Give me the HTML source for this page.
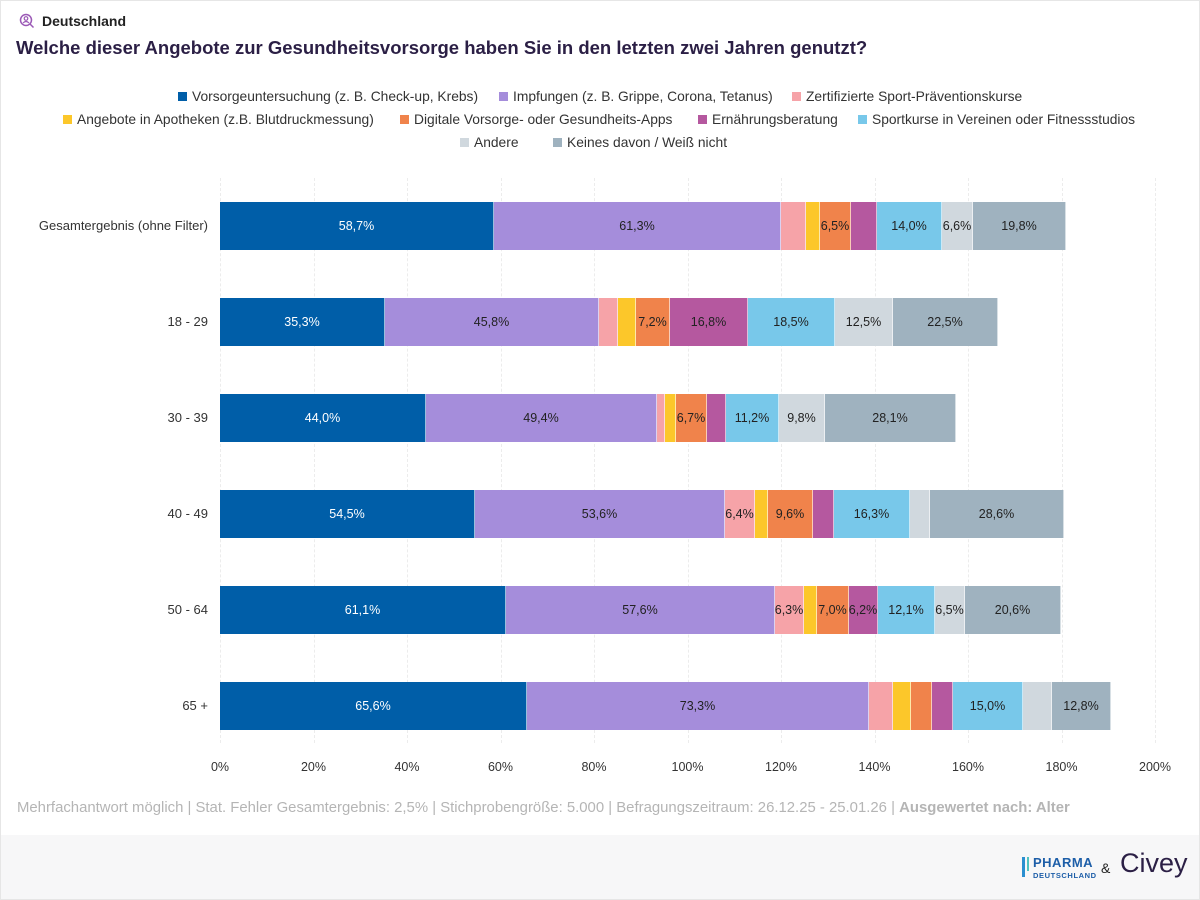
<!DOCTYPE html><html><head><meta charset="utf-8"><style>
body{margin:0;width:1200px;height:900px;background:#fff;font-family:"Liberation Sans",sans-serif;position:relative;overflow:hidden}
.a{position:absolute}
.seg{position:absolute;height:48px;display:flex;align-items:center;justify-content:center;font-size:12.5px;color:#222;box-sizing:border-box;border-right:1px solid rgba(255,255,255,.6)}
.g{position:absolute;top:178px;height:565px;width:0;border-left:1px dashed #ececec}
.lg{position:absolute;font-size:13.8px;color:#333;white-space:nowrap}
.lg i{display:inline-block;width:9px;height:9px;margin-right:5px;vertical-align:0}
.yl{position:absolute;right:992px;font-size:13px;color:#333;white-space:nowrap}
.xl{position:absolute;top:760px;font-size:12.5px;color:#333;transform:translateX(-50%)}
</style></head><body>
<div class="a" style="left:0;top:0;width:1198px;height:898px;border:1px solid #e6e6e6"></div>
<svg class="a" style="left:19px;top:13px" width="16" height="16"><circle cx="7" cy="7" r="5.5" fill="none" stroke="#9b59b6" stroke-width="1.5"/><circle cx="7" cy="5.5" r="1.8" fill="none" stroke="#9b59b6" stroke-width="1.2"/><path d="M4 10 Q7 7 10 10" fill="none" stroke="#9b59b6" stroke-width="1.2"/><line x1="11" y1="11" x2="14.5" y2="14.5" stroke="#9b59b6" stroke-width="1.5"/></svg>
<div class="a" style="left:42px;top:13px;font-size:14px;font-weight:bold;color:#222">Deutschland</div>
<div class="a" style="left:16px;top:37px;font-size:18.5px;font-weight:bold;color:#2b1f45">Welche dieser Angebote zur Gesundheitsvorsorge haben Sie in den letzten zwei Jahren genutzt?</div>
<div class="lg" style="left:178px;top:89px"><i style="background:#005ea8"></i>Vorsorgeuntersuchung (z. B. Check-up, Krebs)</div>
<div class="lg" style="left:499px;top:89px"><i style="background:#a58ddb"></i>Impfungen (z. B. Grippe, Corona, Tetanus)</div>
<div class="lg" style="left:792px;top:89px"><i style="background:#f6a3a8"></i>Zertifizierte Sport-Präventionskurse</div>
<div class="lg" style="left:63px;top:112px"><i style="background:#fcc72a"></i>Angebote in Apotheken (z.B. Blutdruckmessung)</div>
<div class="lg" style="left:400px;top:112px"><i style="background:#f0834b"></i>Digitale Vorsorge- oder Gesundheits-Apps</div>
<div class="lg" style="left:698px;top:112px"><i style="background:#b5589f"></i>Ernährungsberatung</div>
<div class="lg" style="left:858px;top:112px"><i style="background:#78c8ea"></i>Sportkurse in Vereinen oder Fitnessstudios</div>
<div class="lg" style="left:460px;top:135px"><i style="background:#d0d8de"></i>Andere</div>
<div class="lg" style="left:553px;top:135px"><i style="background:#9fb2bf"></i>Keines davon / Weiß nicht</div>
<div id="grid"></div><div id="bars"></div>
<div class="a" style="left:17px;top:800px;font-size:14.9px;color:#b5b5b5">Mehrfachantwort möglich | Stat. Fehler Gesamtergebnis: 2,5% | Stichprobengröße: 5.000 | Befragungszeitraum: 26.12.25 - 25.01.26 | <b>Ausgewertet nach: Alter</b></div>
<div class="a" style="left:1px;top:835px;width:1198px;height:64px;background:#f7f7f8"></div>
<div class="a" style="left:1022px;top:857px;width:3px;height:20px;background:#2b8fd0"></div><div class="a" style="left:1027px;top:857px;width:2px;height:14px;background:#4fc3c0"></div>
<div class="a" style="left:1033px;top:855px;font-size:13px;font-weight:bold;color:#1d5ea8;letter-spacing:.5px">PHARMA</div>
<div class="a" style="left:1033px;top:871px;font-size:7.5px;font-weight:bold;color:#1d5ea8;letter-spacing:.6px">DEUTSCHLAND</div>
<div class="a" style="left:1101px;top:860px;font-size:14px;color:#222">&amp;</div>
<div class="a" style="left:1120px;top:848px;font-size:27px;color:#2b1f45">Civey</div>
<script>
var g='';for(var k=0;k<=10;k++){var x=220+93.5*k;g+='<div class="g" style="left:'+x+'px"></div><div class="xl" style="left:'+x+'px">'+(k*20)+'%</div>';}
document.getElementById('grid').innerHTML=g;
var C=['#005ea8','#a58ddb','#f6a3a8','#fcc72a','#f0834b','#b5589f','#78c8ea','#d0d8de','#9fb2bf'];
var R=[["Gesamtergebnis (ohne Filter)",[220,494,781,806,820,851,877,942,973,1066],["58,7%","61,3%","","","6,5%","","14,0%","6,6%","19,8%"]],
["18 - 29",[220,385,599,618,636,670,748,835,893,998],["35,3%","45,8%","","","7,2%","16,8%","18,5%","12,5%","22,5%"]],
["30 - 39",[220,426,657,665,676,707,726,779,825,956],["44,0%","49,4%","","","6,7%","","11,2%","9,8%","28,1%"]],
["40 - 49",[220,475,725,755,768,813,834,910,930,1064],["54,5%","53,6%","6,4%","","9,6%","","16,3%","","28,6%"]],
["50 - 64",[220,506,775,804,817,849,878,935,965,1061],["61,1%","57,6%","6,3%","","7,0%","6,2%","12,1%","6,5%","20,6%"]],
["65 +",[220,527,869,893,911,932,953,1023,1052,1111],["65,6%","73,3%","","","","","15,0%","","12,8%"]]];
var h='';R.forEach(function(r,i){var t=202+96*i;h+='<div class="yl" style="top:'+(t+16)+'px">'+r[0]+'</div>';
for(var j=0;j<9;j++){h+='<div class="seg" style="left:'+r[1][j]+'px;top:'+t+'px;width:'+(r[1][j+1]-r[1][j])+'px;background:'+C[j]+';'+(j==0?'color:#fff':'')+'">'+r[2][j]+'</div>';}});
document.getElementById('bars').innerHTML=h;
</script>
</body></html>
